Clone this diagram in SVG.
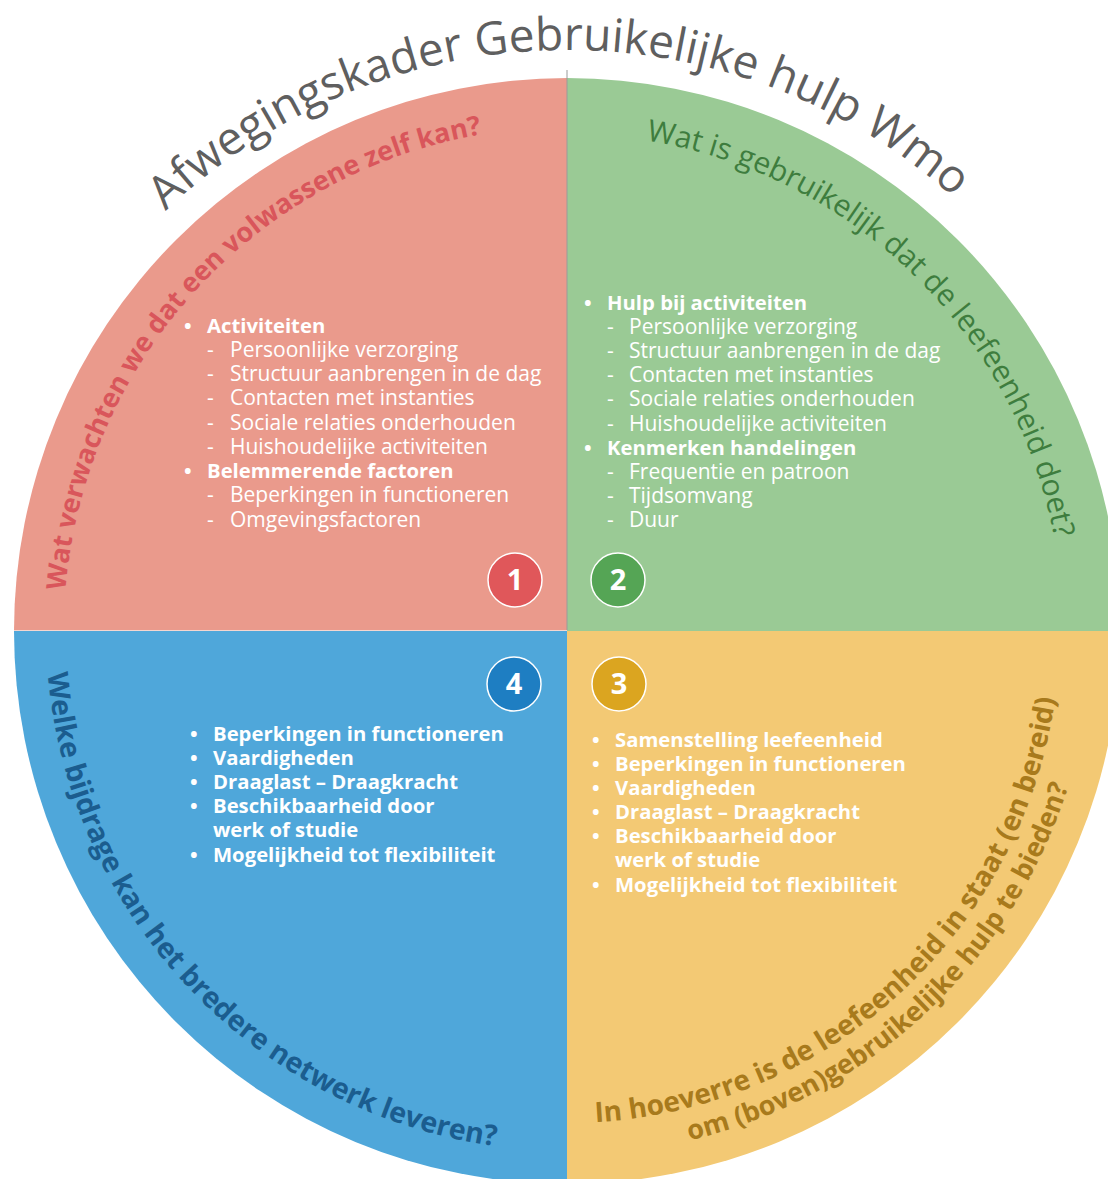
<svg xmlns="http://www.w3.org/2000/svg" width="1108" height="1179" viewBox="0 0 1108 1179">
<style>
.title{font-family:"Open Sans","Liberation Sans",sans-serif;font-size:46px;fill:#5f5f5f}
.q{font-family:"Open Sans","Liberation Sans",sans-serif;font-weight:700}
.item{font-family:"Open Sans","Liberation Sans",sans-serif;font-size:21px;fill:#ffffff}
.b{font-weight:700;font-size:20.3px}
.num{font-family:"Open Sans","Liberation Sans",sans-serif;font-size:29px;font-weight:700;fill:#ffffff;text-anchor:middle}
.badge{stroke:#ffffff;stroke-width:1.5}
</style>
<defs>
<path id="pTitle" d="M -13,630 A 580,580 0 0 1 1147,630"/>
<path id="pRed" d="M 64,630 A 503,503 0 0 1 567,127"/>
<path id="pGreen" d="M 567,134 A 496,496 0 0 1 1063,630"/>
<path id="pBlue" d="M 46,630 A 521,521 0 0 0 567,1151"/>
<path id="pY1" d="M 567,1123 A 493,493 0 0 0 1060,630"/>
<path id="pY2" d="M 567,1155 A 525,525 0 0 0 1092,630"/>
</defs>
<rect width="1108" height="1179" fill="#ffffff"/>

<g id="quadrant1">
<path d="M 567,631 L 14,631 A 553,553 0 0 1 567,78 Z" fill="#ea9a8c"/>
<text class="q" font-size="27" fill="#d9565b"><textPath href="#pRed" startOffset="372" text-anchor="middle">Wat verwachten we dat een volwassene zelf kan?</textPath></text>
<g class="item">
<text x="184" y="333" class="b">•</text><text x="207" y="333" class="b">Activiteiten</text>
<text x="207" y="357">-</text><text x="230" y="357">Persoonlijke verzorging</text>
<text x="207" y="381">-</text><text x="230" y="381">Structuur aanbrengen in de dag</text>
<text x="207" y="405">-</text><text x="230" y="405">Contacten met instanties</text>
<text x="207" y="430">-</text><text x="230" y="430">Sociale relaties onderhouden</text>
<text x="207" y="454">-</text><text x="230" y="454">Huishoudelijke activiteiten</text>
<text x="184" y="478" class="b">•</text><text x="207" y="478" class="b">Belemmerende factoren</text>
<text x="207" y="502">-</text><text x="230" y="502">Beperkingen in functioneren</text>
<text x="207" y="527">-</text><text x="230" y="527">Omgevingsfactoren</text>
</g>
<circle class="badge" cx="515" cy="580" r="27" fill="#e0575a"/>
<text class="num" x="515" y="590">1</text>
</g>

<g id="quadrant2">
<path d="M 567,631 L 567,78 A 553,553 0 0 1 1120,631 Z" fill="#9aca95"/>
<text font-family="'Open Sans','Liberation Sans',sans-serif" font-size="30" fill="#3e7d3e"><textPath href="#pGreen" startOffset="383" text-anchor="middle">Wat is gebruikelijk dat de leefeenheid doet?</textPath></text>
<g class="item">
<text x="584" y="310" class="b">•</text><text x="607" y="310" class="b">Hulp bij activiteiten</text>
<text x="607" y="334">-</text><text x="629" y="334">Persoonlijke verzorging</text>
<text x="607" y="358">-</text><text x="629" y="358">Structuur aanbrengen in de dag</text>
<text x="607" y="382">-</text><text x="629" y="382">Contacten met instanties</text>
<text x="607" y="406">-</text><text x="629" y="406">Sociale relaties onderhouden</text>
<text x="607" y="431">-</text><text x="629" y="431">Huishoudelijke activiteiten</text>
<text x="584" y="455" class="b">•</text><text x="607" y="455" class="b">Kenmerken handelingen</text>
<text x="607" y="479">-</text><text x="629" y="479">Frequentie en patroon</text>
<text x="607" y="503">-</text><text x="629" y="503">Tijdsomvang</text>
<text x="607" y="527">-</text><text x="629" y="527">Duur</text>
</g>
<circle class="badge" cx="618" cy="580" r="27" fill="#55a555"/>
<text class="num" x="618" y="590">2</text>
</g>

<g id="quadrant3">
<path d="M 567,631 L 1120,631 A 553,553 0 0 1 567,1184 Z" fill="#f3c974"/>
<g class="q" fill="#a87a1c">
<text font-size="28"><textPath href="#pY1" startOffset="367" text-anchor="middle">In hoeverre is de leefeenheid in staat (en bereid)</textPath></text>
<text font-size="27"><textPath href="#pY2" startOffset="395" text-anchor="middle">om (boven)gebruikelijke hulp te bieden?</textPath></text>
</g>
<g class="item b">
<text x="592" y="747">•</text><text x="615" y="747">Samenstelling leefeenheid</text>
<text x="592" y="771">•</text><text x="615" y="771">Beperkingen in functioneren</text>
<text x="592" y="795">•</text><text x="615" y="795">Vaardigheden</text>
<text x="592" y="819">•</text><text x="615" y="819">Draaglast – Draagkracht</text>
<text x="592" y="843">•</text><text x="615" y="843">Beschikbaarheid door</text>
<text x="615" y="867">werk of studie</text>
<text x="592" y="892">•</text><text x="615" y="892">Mogelijkheid tot flexibiliteit</text>
</g>
<circle class="badge" cx="619" cy="684" r="27" fill="#dba520"/>
<text class="num" x="619" y="694">3</text>
</g>

<g id="quadrant4">
<path d="M 567,631 L 567,1184 A 553,553 0 0 1 14,631 Z" fill="#4fa7da"/>
<text class="q" font-size="28.5" fill="#1b5d8f"><textPath href="#pBlue" startOffset="395" text-anchor="middle">Welke bijdrage kan het bredere netwerk leveren?</textPath></text>
<g class="item b">
<text x="190" y="741">•</text><text x="213" y="741">Beperkingen in functioneren</text>
<text x="190" y="765">•</text><text x="213" y="765">Vaardigheden</text>
<text x="190" y="789">•</text><text x="213" y="789">Draaglast – Draagkracht</text>
<text x="190" y="813">•</text><text x="213" y="813">Beschikbaarheid door</text>
<text x="213" y="837">werk of studie</text>
<text x="190" y="862">•</text><text x="213" y="862">Mogelijkheid tot flexibiliteit</text>
</g>
<circle class="badge" cx="514" cy="684" r="27" fill="#1e7ec2"/>
<text class="num" x="514" y="694">4</text>
</g>

<g id="connectors">
<line x1="567" y1="70" x2="567" y2="630" stroke="#9a9a9a" stroke-width="1"/>
<line x1="14" y1="630.5" x2="567" y2="630.5" stroke="#f4d6d0" stroke-width="1"/>
</g>

<g id="title">
<text class="title"><textPath href="#pTitle" startOffset="901" text-anchor="middle">Afwegingskader Gebruikelijke hulp Wmo</textPath></text>
</g>
</svg>
